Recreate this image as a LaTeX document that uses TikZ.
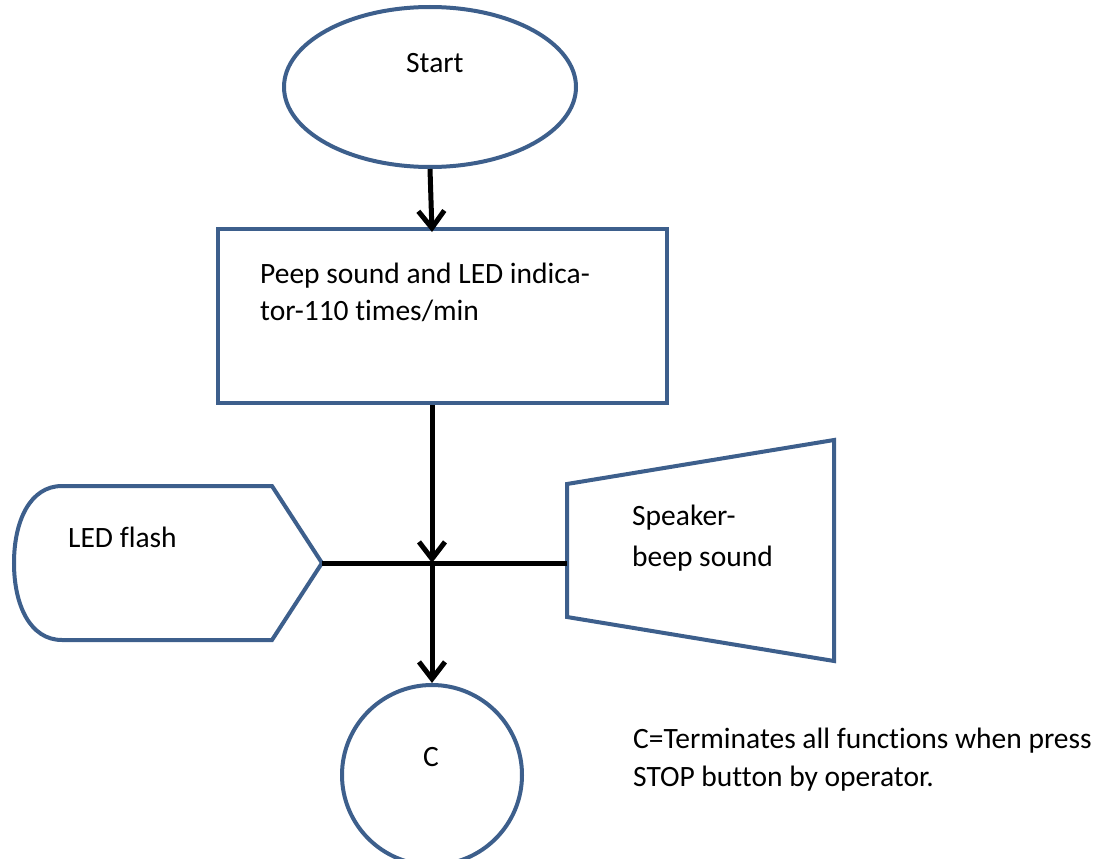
\documentclass[tikz,border=0pt]{standalone}
\usepackage{fontspec}
\setmainfont{Carlito}[Ligatures={NoCommon}]
\usetikzlibrary{shapes.geometric,arrows.meta}
\definecolor{shapeblue}{HTML}{3D5F8C}
\tikzset{
  shp/.style={draw=shapeblue, line width=4pt, fill=white},
  conn/.style={draw=black, line width=5pt},
  arr/.style={conn, -{Straight Barb[length=17pt,width=26pt,line width=5pt]}},
  txt/.style={anchor=base west, inner sep=0pt, font=\fontsize{29.5}{37}\selectfont},
}
\begin{document}
\begin{tikzpicture}[x=1pt,y=-1pt]
\useasboundingbox (0,0) rectangle (1098,859);
\begin{scope}
\clip (0,0) rectangle (1098,859);
% shapes
\node[shp, ellipse, minimum width=292pt, minimum height=160pt] (start) at (430,87) {};
\node[shp, rectangle, minimum width=449pt, minimum height=174pt] (proc) at (442.5,316) {};
\draw[shp] (62,486) -- (272,486) -- (322,563) coordinate (ledtip) -- (272,640) -- (62,640)
  .. controls (30,640) and (14,605) .. (14,563) .. controls (14,521) and (30,486) .. (62,486) -- cycle;
\draw[shp] (567,484) coordinate (spkTL) -- (834,440) -- (834,661) -- (567,617) -- cycle;
\coordinate (spkL) at (567,563);
\node[shp, circle, minimum size=180pt] (cc) at (432,775) {};
% texts
\node[txt] (tstart) at (406,73) {Start};
\node[txt] (tproc1) at (260,283) {Peep sound and LED indica-};
\node[txt] (tproc2) at (260,320) {tor-110 times/min};
\node[txt] (tled) at (68,547) {LED flash};
\node[txt] (tspk1) at (632,525) {Speaker-};
\node[txt] (tspk2) at (632,566) {beep sound};
\node[txt] (tc) at (423,766) {C};
\node[txt] (tnote1) at (633,748) {C=Terminates all functions when press};
\node[txt] (tnote2) at (633,786) {STOP button by operator.};
% connectors
\coordinate (a1) at (432,232);
\coordinate (j) at (432,563);
\draw[conn] (ledtip) -- (spkL);
\draw[arr] (start.south) -- (a1);
\draw[arr] (proc.south -| j) -- (j);
\draw[arr] (j) -- (cc.north);
\end{scope}
\end{tikzpicture}
\end{document}
